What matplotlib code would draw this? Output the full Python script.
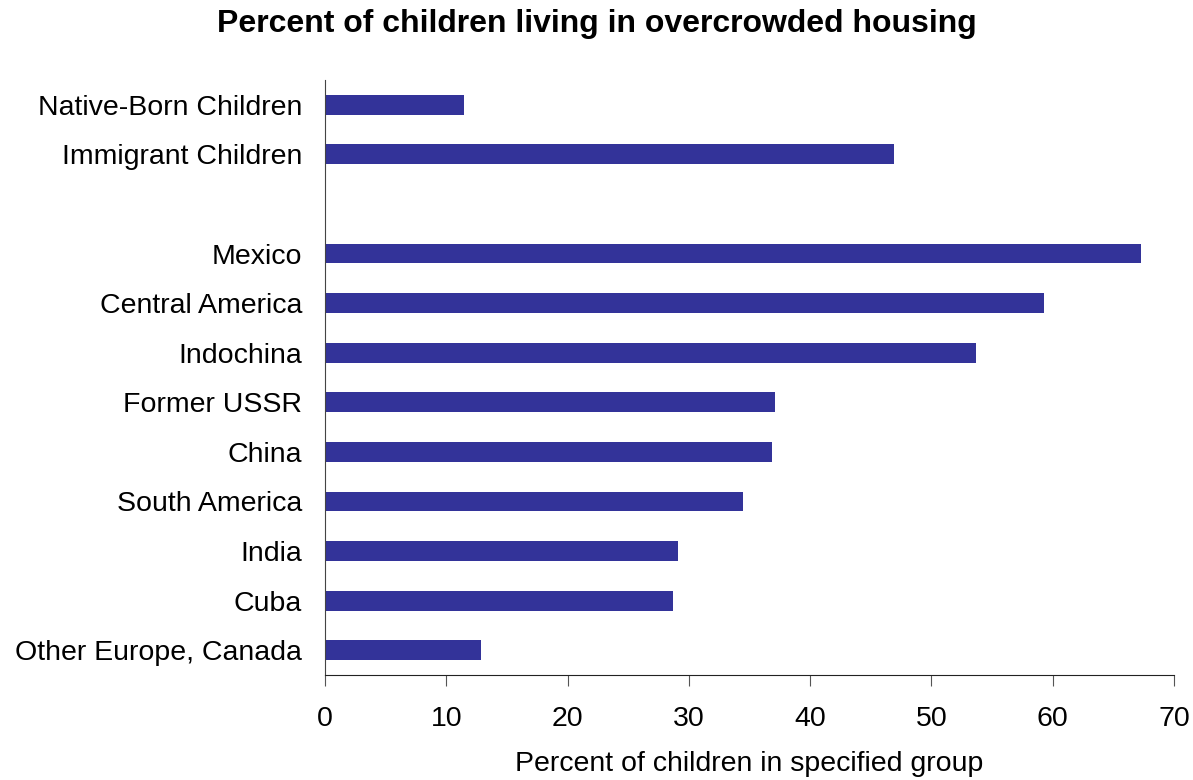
import matplotlib.pyplot as plt

# data (top to bottom, "" is the blank gap row)
groups = ["Native-Born Children", "Immigrant Children", "",
          "Mexico", "Central America", "Indochina", "Former USSR", "China",
          "South America", "India", "Cuba", "Other Europe, Canada"]
percent = [11.5, 46.9, None, 67.3, 59.3, 53.7, 37.1, 36.9, 34.5, 29.1, 28.7, 12.9]

plt.rcParams['font.family'] = ['Liberation Sans', 'DejaVu Sans']

fig = plt.figure(figsize=(11.93, 7.8), dpi=100)
ax = fig.add_axes([0.2724, 0.1346, 0.7116, 0.7628])

ypos = [len(groups) - 1 - i for i in range(len(groups))]
for y, v in zip(ypos, percent):
    if v is not None:
        ax.barh(y, v, height=0.4, color="#333399")

ax.set_yticks(ypos)
ax.set_yticklabels(groups, fontsize=20.5)
ax.tick_params(axis='y', length=0, pad=16.5)
ax.set_ylim(-0.5, len(groups) - 0.5)

ax.set_xlim(0, 70)
ax.set_xticks(range(0, 71, 10))
ax.tick_params(axis='x', labelsize=20.5, length=8, direction='out', pad=14, color='#555555')
ax.set_xlabel("Percent of children in specified group", fontsize=20.5, labelpad=14)

for s in ['top', 'right']:
    ax.spines[s].set_visible(False)
ax.spines['left'].set_color('#444444')
ax.spines['bottom'].set_color('#222222')

fig.suptitle("Percent of children living in overcrowded housing", fontsize=23, fontweight='bold', x=0.5, y=0.988)

fig.savefig("out.png", dpi=100)
